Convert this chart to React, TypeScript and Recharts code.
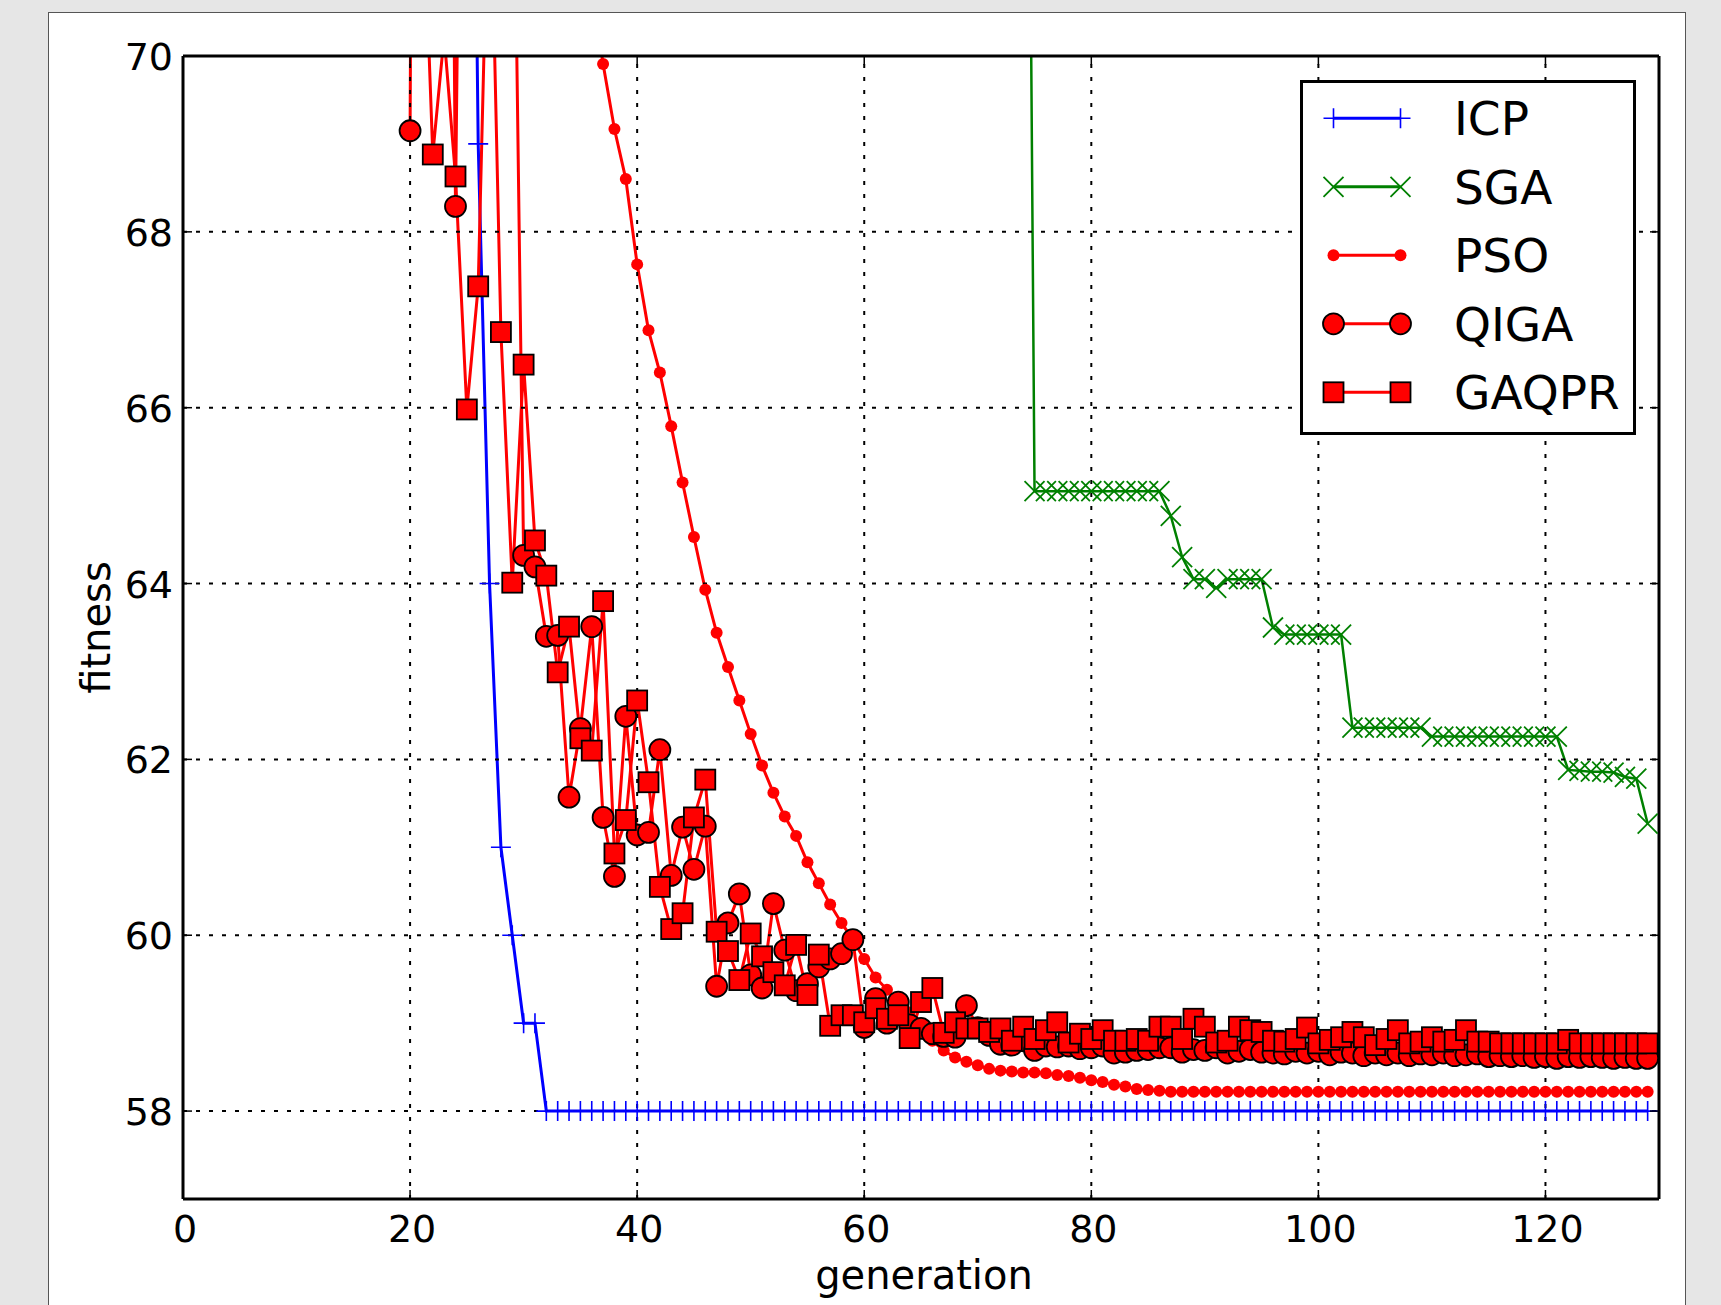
import React from "react";
import { LineChart, Line, XAxis, YAxis, ReferenceLine, Legend, Label } from "recharts";

const W = 1721;
const H = 1305;
const PLOT_TOP = 56;
const PLOT_RIGHT = 1659;
const TICK = 9;
const FONT = "DejaVu Sans";

const xTicks = [0, 20, 40, 60, 80, 100, 120];
const yTicks = [58, 60, 62, 64, 66, 68, 70];

// ICP, from generation 25
const icpStart = 25;
const icpValues = [
  80, 69, 64, 61, 60, 59, 59,
  58, 58, 58, 58, 58, 58, 58, 58, 58, 58, 58, 58, 58, 58,
  58, 58, 58, 58, 58, 58, 58, 58, 58, 58, 58, 58, 58, 58,
  58, 58, 58, 58, 58, 58, 58, 58, 58, 58, 58, 58, 58, 58,
  58, 58, 58, 58, 58, 58, 58, 58, 58, 58, 58, 58, 58, 58,
  58, 58, 58, 58, 58, 58, 58, 58, 58, 58, 58, 58, 58, 58,
  58, 58, 58, 58, 58, 58, 58, 58, 58, 58, 58, 58, 58, 58,
  58, 58, 58, 58, 58, 58, 58, 58, 58, 58, 58, 58, 58, 58,
];

// SGA, from generation 74
const sgaStart = 74;
const sgaValues = [
  82,
  65.05, 65.05, 65.05, 65.05, 65.05, 65.05, 65.05, 65.05, 65.05, 65.05, 65.05, 65.05,
  64.77, 64.3, 64.05, 64.05, 63.95, 64.05, 64.05, 64.05, 64.05,
  63.5,
  63.42, 63.42, 63.42, 63.42, 63.42, 63.42,
  62.36, 62.36, 62.36, 62.36, 62.36, 62.36, 62.36,
  62.26, 62.26, 62.26, 62.26, 62.26, 62.26, 62.26, 62.26, 62.26, 62.26, 62.26, 62.26,
  61.88, 61.87, 61.86, 61.86, 61.85, 61.8, 61.78, 61.27,
];

// PSO, from generation 35
const psoStart = 35;
const psoValues = [
  72.0, 70.8, 69.91, 69.17, 68.6, 67.63, 66.88, 66.4, 65.79, 65.15,
  64.53, 63.93, 63.44, 63.05, 62.67, 62.29, 61.93, 61.62, 61.35, 61.13,
  60.83, 60.59, 60.35, 60.14, 59.95, 59.73, 59.52, 59.38, 59.26, 59.12,
  58.96, 58.8, 58.69, 58.61, 58.56, 58.52, 58.48, 58.46, 58.45, 58.44,
  58.44, 58.43, 58.41, 58.4, 58.38, 58.35, 58.33, 58.3, 58.28, 58.25,
  58.24, 58.23,
  58.22, 58.22, 58.22, 58.22, 58.22, 58.22, 58.22, 58.22, 58.22, 58.22,
  58.22, 58.22, 58.22, 58.22, 58.22, 58.22, 58.22, 58.22, 58.22, 58.22,
  58.22, 58.22, 58.22, 58.22, 58.22, 58.22, 58.22, 58.22, 58.22, 58.22,
  58.22, 58.22, 58.22, 58.22, 58.22, 58.22, 58.22, 58.22, 58.22, 58.22,
  58.22, 58.22, 58.22,
];

// QIGA, from generation 20
const qigaStart = 20;
const qigaValues = [
  69.15, 95, 88, 85, 68.29, 80, 78, 76, 75, 73.8,
  64.32, 64.19, 63.4, 63.41, 61.57, 62.35, 63.51, 61.34, 60.67, 62.49,
  61.14, 61.17, 62.11, 60.68, 61.23, 60.75, 61.24, 59.42, 60.14, 60.47,
  59.55, 59.4, 60.36, 59.83, 59.37, 59.45, 59.64, 59.73, 59.79, 59.95,
  58.95, 59.28, 59.0, 59.24, 58.98, 58.94, 58.88, 58.85, 58.84, 59.2,
  58.95, 58.86, 58.76, 58.75, 58.8, 58.69, 58.74, 58.73, 58.74, 58.71,
  58.72, 58.74, 58.66, 58.67, 58.69, 58.7, 58.72, 58.72, 58.67, 58.7,
  58.69, 58.72, 58.66, 58.68, 58.7, 58.67, 58.66, 58.65, 58.68, 58.66,
  58.68, 58.64, 58.67, 58.66, 58.63, 58.66, 58.64, 58.66, 58.63, 58.65,
  58.64, 58.66, 58.63, 58.64, 58.65, 58.62, 58.63, 58.62, 58.63, 58.61,
  58.62, 58.6, 58.62, 58.61, 58.62, 58.61, 58.6, 58.61, 58.6, 58.6,
];

// GAQPR, from generation 21
const gaqprStart = 21;
const gaqprValues = [
  72.4, 68.88, 70.23, 68.63, 65.98, 67.38, 72.6, 66.86, 64.01,
  66.49, 64.49, 64.09, 62.99, 63.51, 62.24, 62.1, 63.8, 60.93, 61.31,
  62.67, 61.74, 60.55, 60.07, 60.25, 61.34, 61.77, 60.04, 59.82, 59.49,
  60.02, 59.76, 59.58, 59.43, 59.89, 59.32, 59.78, 58.97, 59.09, 59.09,
  59.01, 59.17, 59.05, 59.09, 58.83, 59.24, 59.4, 58.89, 59.01, 58.94,
  58.94, 58.9, 58.94, 58.8, 58.96, 58.82, 58.92, 59.01, 58.78, 58.88,
  58.82, 58.92, 58.8, 58.8, 58.82, 58.8, 58.96, 58.96, 58.82, 59.05,
  58.96, 58.78, 58.8, 58.96, 58.92, 58.9, 58.8, 58.79, 58.82, 58.95,
  58.77, 58.81, 58.84, 58.9, 58.84, 58.75, 58.82, 58.92, 58.77, 58.79,
  58.84, 58.79, 58.81, 58.92, 58.79, 58.79, 58.77, 58.77, 58.77, 58.77,
  58.77, 58.77, 58.81, 58.77, 58.77, 58.77, 58.77, 58.77, 58.77, 58.77,
];

const series = [
  { key: "icp", start: icpStart, values: icpValues },
  { key: "sga", start: sgaStart, values: sgaValues },
  { key: "pso", start: psoStart, values: psoValues },
  { key: "qiga", start: qigaStart, values: qigaValues },
  { key: "gaqpr", start: gaqprStart, values: gaqprValues },
];
const legendOrder = series.map((s) => s.key);

const rows: any[] = [];
for (let g = 0; g <= 129; g++) {
  const row: any = { gen: g };
  series.forEach((s) => {
    const v = s.values[g - s.start];
    row[s.key] = v === undefined ? null : v;
  });
  rows.push(row);
}

const markers: Record<string, (cx: number, cy: number, k?: any) => any> = {
  icp: (cx, cy, k) => (
    <path key={k} d={`M${cx - 10},${cy}H${cx + 10}M${cx},${cy - 10}V${cy + 10}`} stroke="#0000ff" strokeWidth={1.6} fill="none" />
  ),
  sga: (cx, cy, k) => (
    <path key={k} d={`M${cx - 10},${cy - 10}L${cx + 10},${cy + 10}M${cx - 10},${cy + 10}L${cx + 10},${cy - 10}`} stroke="#008000" strokeWidth={1.8} fill="none" />
  ),
  pso: (cx, cy, k) => <circle key={k} cx={cx} cy={cy} r={6} fill="#ff0000" stroke="none" />,
  qiga: (cx, cy, k) => <circle key={k} cx={cx} cy={cy} r={10.5} fill="#ff0000" stroke="#000" strokeWidth={1.8} />,
  gaqpr: (cx, cy, k) => (
    <rect key={k} x={cx - 10} y={cy - 10} width={20} height={20} fill="#ff0000" stroke="#000" strokeWidth={1.8} />
  ),
};

const dotFor = (key: string) => (p: any) => {
  const { cx, cy, value } = p;
  if (cx == null || cy == null || value == null || Number.isNaN(cy)) return <g key={p.key} />;
  return markers[key](cx, cy, p.key);
};

const XTick = (p: any) => {
  const { x, y, payload } = p;
  return (
    <g>
      <line x1={x} y1={y} x2={x} y2={y - TICK} stroke="#000" strokeWidth={1.5} />
      <line x1={x} y1={PLOT_TOP} x2={x} y2={PLOT_TOP + TICK} stroke="#000" strokeWidth={1.5} />
      <text x={x + 2} y={y + 43} textAnchor="middle" fontSize={38} fontFamily={FONT} fill="#000">
        {payload.value}
      </text>
    </g>
  );
};

const YTick = (p: any) => {
  const { x, y, payload } = p;
  return (
    <g>
      <line x1={x} y1={y} x2={x + TICK} y2={y} stroke="#000" strokeWidth={1.5} />
      <line x1={PLOT_RIGHT - TICK} y1={y} x2={PLOT_RIGHT} y2={y} stroke="#000" strokeWidth={1.5} />
      <text x={x - 10} y={y + 14} textAnchor="end" fontSize={38} fontFamily={FONT} fill="#000">
        {payload.value}
      </text>
    </g>
  );
};

const renderLegend = (props: any) => {
  const payload = props.payload || [];
  const entries = legendOrder
    .map((k) => payload.find((e: any) => String(e.dataKey) === k))
    .filter(Boolean);
  return (
    <svg width={336} height={355} style={{ display: "block" }}>
      <rect x={1.5} y={1.5} width={333} height={352} fill="#fff" stroke="#000" strokeWidth={3} />
      {entries.map((entry: any, i: number) => {
        const cy = 38.3 + i * 68.5;
        const key = String(entry.dataKey);
        return (
          <g key={key}>
            <line x1={33.5} x2={100.5} y1={cy} y2={cy} stroke={entry.color} strokeWidth={3} />
            {markers[key](33.5, cy, "a")}
            {markers[key](100.5, cy, "b")}
            <text x={154} y={cy + 17} fontSize={47} fontFamily={FONT} fill="#000">
              {entry.value}
            </text>
          </g>
        );
      })}
    </svg>
  );
};

const gridStyle = { stroke: "#000", strokeWidth: 2, strokeDasharray: "4 9" };
const frameStyle = { stroke: "#000", strokeWidth: 3 };

export default function App() {
  return (
    <div style={{ position: "absolute", left: 0, top: 0, width: W, height: H, background: "#e6e6e6", overflow: "hidden" }}>
      <div
        style={{
          position: "absolute",
          left: 48,
          top: 12,
          width: 1638,
          height: 1320,
          background: "#fff",
          border: "1.5px solid #555",
          boxSizing: "border-box",
        }}
      />
      <div style={{ position: "absolute", left: 0, top: 0 }}>
        <LineChart width={W} height={H} data={rows} margin={{ top: 56, right: 62, bottom: 46, left: 123 }}>
          <XAxis
            dataKey="gen"
            type="number"
            domain={[0, 130]}
            ticks={xTicks}
            interval={0}
            allowDataOverflow
            height={60}
            tickSize={0}
            tickMargin={0}
            tickLine={false}
            tick={<XTick />}
            axisLine={false}
          >
            <Label
              content={(p: any) => {
                const vb = p.viewBox || { x: 183, y: 1199, width: 1476 };
                return (
                  <text x={vb.x + vb.width / 2 + 3} y={vb.y + 90} textAnchor="middle" fontSize={40} fontFamily={FONT} fill="#000">
                    generation
                  </text>
                );
              }}
            />
          </XAxis>
          <YAxis
            type="number"
            domain={[57, 70]}
            ticks={yTicks}
            interval={0}
            allowDataOverflow
            width={60}
            tickSize={0}
            tickMargin={0}
            tickLine={false}
            tick={<YTick />}
            axisLine={false}
          >
            <Label
              content={(p: any) => {
                const vb = p.viewBox || { x: 123, y: 56, width: 60, height: 1143 };
                const lx = vb.x + vb.width - 73;
                const ly = vb.y + vb.height / 2;
                return (
                  <text x={lx} y={ly} transform={`rotate(-90, ${lx}, ${ly})`} textAnchor="middle" fontSize={40} fontFamily={FONT} fill="#000">
                    fitness
                  </text>
                );
              }}
            />
          </YAxis>

          <Line name="ICP" dataKey="icp" type="linear" stroke="#0000ff" strokeWidth={3} dot={dotFor("icp")} activeDot={false} isAnimationActive={false} />
          <Line name="SGA" dataKey="sga" type="linear" stroke="#008000" strokeWidth={2.5} dot={dotFor("sga")} activeDot={false} isAnimationActive={false} />
          <Line name="PSO" dataKey="pso" type="linear" stroke="#ff0000" strokeWidth={3} dot={dotFor("pso")} activeDot={false} isAnimationActive={false} />
          <Line name="QIGA" dataKey="qiga" type="linear" stroke="#ff0000" strokeWidth={3} dot={dotFor("qiga")} activeDot={false} isAnimationActive={false} />
          <Line name="GAQPR" dataKey="gaqpr" type="linear" stroke="#ff0000" strokeWidth={3} dot={dotFor("gaqpr")} activeDot={false} isAnimationActive={false} />

          {xTicks.filter((v) => v > 0).map((v) => (
            <ReferenceLine key={`gx${v}`} x={v} {...gridStyle} />
          ))}
          {yTicks.filter((v) => v < 70).map((v) => (
            <ReferenceLine key={`gy${v}`} y={v} {...gridStyle} />
          ))}
          <ReferenceLine y={70} {...frameStyle} />
          <ReferenceLine y={57} {...frameStyle} />
          <ReferenceLine x={0} {...frameStyle} />
          <ReferenceLine x={130} {...frameStyle} />

          <Legend
            layout="vertical"
            align="center"
            verticalAlign="middle"
            content={renderLegend}
            wrapperStyle={{ left: 1300, top: 80, width: 336, height: 355 }}
          />
        </LineChart>
      </div>
    </div>
  );
}
